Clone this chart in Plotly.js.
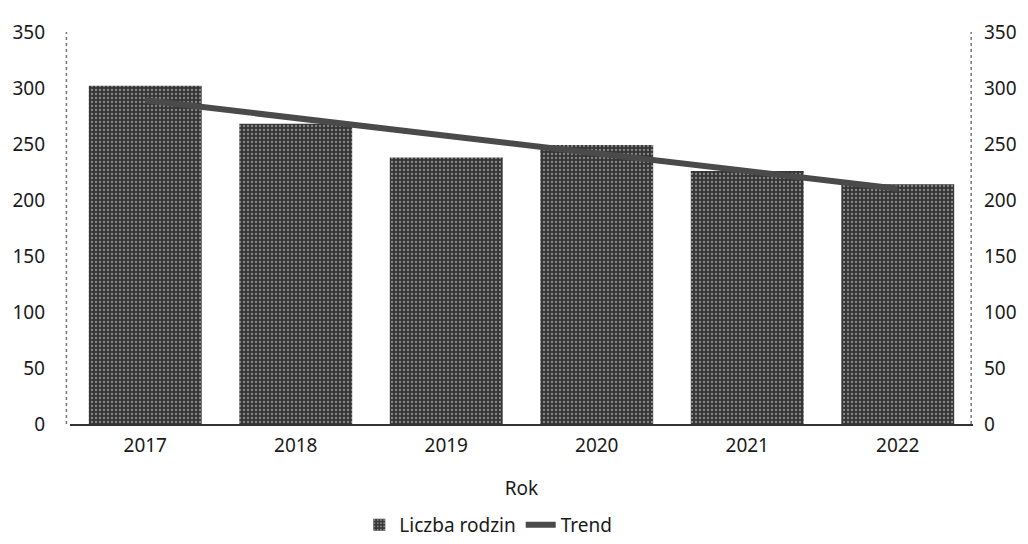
<!DOCTYPE html>
<html><head><meta charset="utf-8">
<script src="https://cdn.plot.ly/plotly-3.0.1.min.js"></script>
<style>body{margin:0;background:#fff}#c{width:1028px;height:544px}</style>
</head><body><div id="c"></div>
<script>
const years = ['2017','2018','2019','2020','2021','2022'];
const families = [302, 268, 238, 249, 226, 214];
const trend = [289, 273, 257, 242, 226, 210];
const yTicks = [0,50,100,150,200,250,300,350];

const font = {family:'Noto Sans, Open Sans, sans-serif', size:19, color:'#1a1a1a'};
const data = [
  {type:'bar', x:years, y:families, name:'Liczba rodzin',
   marker:{color:'#363636', line:{width:0},
     pattern:{shape:'.', fgcolor:'#8a8a8a', bgcolor:'#363636', size:4, solidity:0.25}}},
  {type:'scatter', mode:'lines', x:years, y:trend, name:'Trend', yaxis:'y2',
   line:{color:'#4a4a4a', width:6}}
];
const layout = {
  width:1028, height:544, paper_bgcolor:'#fff', plot_bgcolor:'#fff',
  margin:{l:70, r:55, t:32, b:120, autoexpand:false},
  font:font, bargap:0.25, showlegend:true,
  legend:{orientation:'h', x:0.475, xanchor:'center', xref:'container', yref:'container', y:-0.03, yanchor:'bottom', font:{size:19}},
  xaxis:{title:{text:'Rok', font:{size:19}, standoff:25}, automargin:false, showline:true, linecolor:'#333', linewidth:1.5,
         ticks:'', ticklabelstandoff:3, tickfont:{size:19}, showgrid:false},
  yaxis:{range:[0,350], tickvals:yTicks, showgrid:false, zeroline:false, showline:false, automargin:false,
         ticks:'', ticklabelstandoff:24, tickfont:{size:19}},
  yaxis2:{range:[0,350], tickvals:yTicks, overlaying:'y', side:'right', showgrid:false, zeroline:false, automargin:false,
          showline:false, ticks:'', ticklabelstandoff:10, tickfont:{size:19}},
  shapes:[
    {type:'line', xref:'paper', yref:'paper', x0:-0.004, x1:-0.004, y0:0, y1:1, line:{color:'#777', width:1.5, dash:'dot'}},
    {type:'line', xref:'paper', yref:'paper', x0:0.998, x1:0.998, y0:0, y1:1, line:{color:'#777', width:1.5, dash:'dot'}}
  ]
};
Plotly.newPlot('c', data, layout, {displayModeBar:false});
</script></body></html>
